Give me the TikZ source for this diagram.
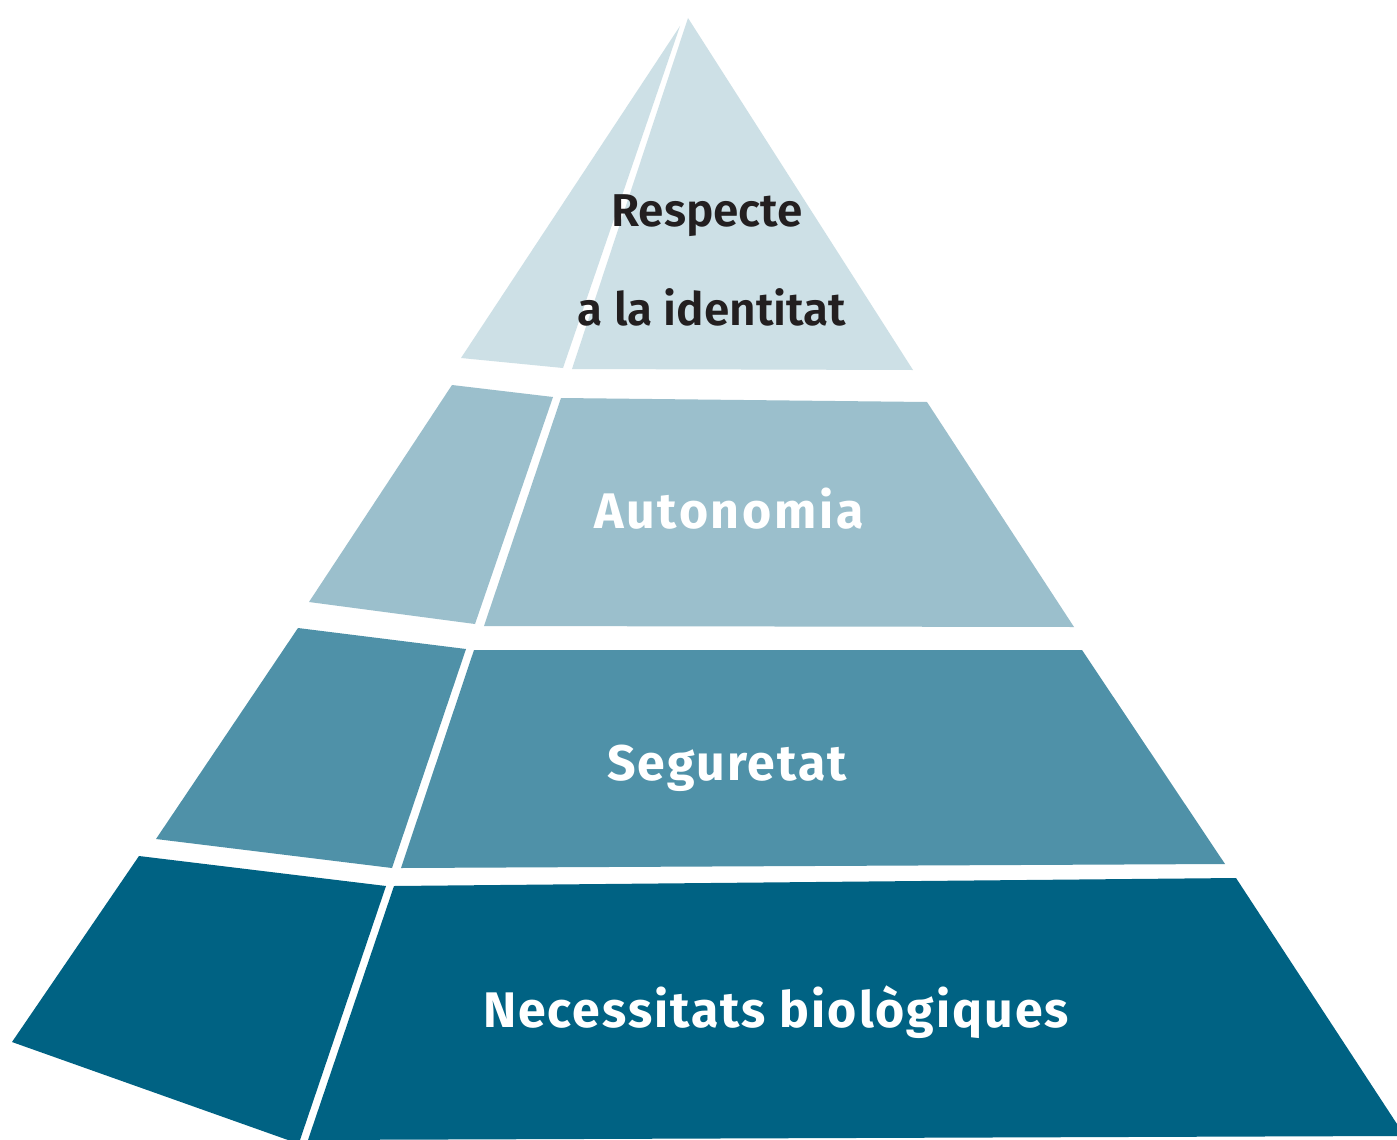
\documentclass[tikz,border=0pt]{standalone}
\usepackage{fontspec}
\setmainfont{Fira Sans}
\newfontfamily\semib{Fira Sans SemiBold}
\newfontfamily\spaced{Fira Sans}[LetterSpace=5.5]
\newfontfamily\spacedb{Fira Sans}[LetterSpace=4]
\begin{document}
\begin{tikzpicture}[x=1pt,y=-1pt,
  toplbl/.style={anchor=base,inner sep=0pt,text=ink,font=\fontsize{46}{58}\semib},
  wlbl/.style={anchor=base,inner sep=0pt,text=white,font=\fontsize{50}{58}\spaced\bfseries},
  wlblb/.style={anchor=base,inner sep=0pt,text=white,font=\fontsize{50}{58}\spacedb\bfseries}]
\definecolor{tA}{HTML}{CDE0E6}
\definecolor{tB}{HTML}{9BBFCC}
\definecolor{tC}{HTML}{4F91A8}
\definecolor{tD}{HTML}{006283}
\definecolor{ink}{HTML}{231F20}
\useasboundingbox[fill=white] (0,0) rectangle (1397,1140);
% tier 1
\fill[tA] (680,26) -- (461,358) -- (563,368) -- cycle;
\fill[tA] (688,18) -- (913,370) -- (572,369) -- cycle;
% tier 2
\fill[tB] (452,385) -- (553,397) -- (475,624) -- (309,602) -- cycle;
\fill[tB] (561,398) -- (927,402) -- (1074,627) -- (484,626) -- cycle;
% tier 3
\fill[tC] (298,628) -- (466,649) -- (392,868) -- (156,839) -- cycle;
\fill[tC] (474,650) -- (1082,650) -- (1225,864) -- (401,868) -- cycle;
% tier 4
\fill[tD] (139,856) -- (386,886) -- (300,1140) -- (288,1140) -- (12,1042) -- cycle;
\fill[tD] (394,886) -- (1236,878) -- (1397,1124) -- (1397,1136) -- (308,1140) -- cycle;
% labels
\node[toplbl] (r1) at (707,226) {Respecte};
\node[toplbl] (r2) at (712,325) {a la identitat};
\node[wlbl] (au) at (729,528) {Autonomia};
\node[wlblb] (se) at (727,780) {Seguretat};
\node[wlblb] (ne) at (776,1027) {Necessitats biològiques};
\end{tikzpicture}
\end{document}
